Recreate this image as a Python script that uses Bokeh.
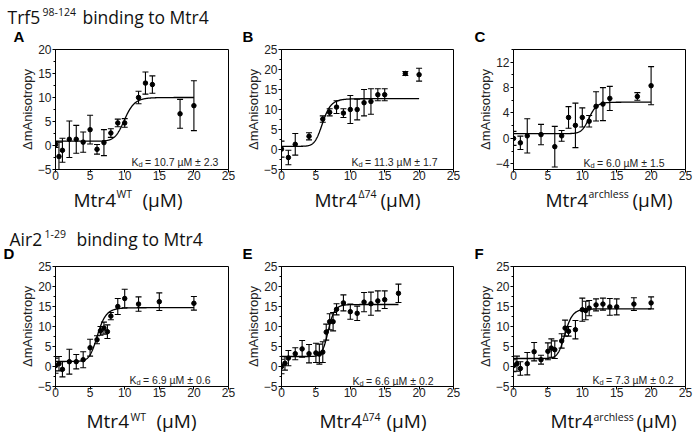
import numpy as np
from bokeh.plotting import figure
from bokeh.models import Label, Range1d, SingleIntervalTicker
from bokeh.layouts import column, row
from bokeh.embed import file_html
from bokeh.resources import INLINE

# ---------------- data ----------------
a_x = [0, 0.5, 1, 2, 3, 4, 5, 6, 7, 8, 9, 10, 12, 13, 14, 18, 20]
a_y = [0.2, -2.3, -1.0, 1.3, 1.3, 0.7, 3.3, -0.8, 0.6, 2.6, 4.7, 4.7, 10.0, 13.0, 12.7, 6.6, 8.3]
a_err = [0.6, 3.0, 2.5, 3.8, 2.9, 2.1, 3.0, 1.0, 2.7, 0.9, 0.8, 0.9, 1.3, 2.3, 1.8, 3.0, 5.2]

b_x = [0, 1, 2, 4, 6, 7, 8, 9, 10, 11, 12, 13, 14, 15, 18, 20]
b_y = [0.1, -2.0, 1.3, 3.3, 7.6, 9.3, 10.6, 9.1, 10.0, 10.0, 11.7, 12.0, 13.7, 13.7, 19.0, 18.7]
b_err = [2.0, 1.8, 2.7, 0.9, 0.8, 0.9, 1.6, 1.1, 3.5, 2.6, 3.3, 3.2, 1.5, 1.5, 0.5, 1.6]

c_x = [0, 1, 2, 4, 6, 7, 8, 9, 10, 11, 12, 13, 14, 18, 20]
c_y = [0.0, -0.7, 0.4, 0.6, -1.3, 0.4, 3.3, 2.05, 3.3, 2.7, 5.05, 5.4, 6.3, 6.6, 8.3]
c_err = [1.1, 1.05, 2.7, 1.6, 3.2, 0.85, 1.7, 3.5, 1.5, 0.9, 2.3, 2.6, 1.9, 0.6, 3.0]

d_x = [0, 0.5, 1, 2, 3, 4, 5, 6, 6.5, 7, 7.5, 8, 9, 10, 12, 15, 20]
d_y = [0.2, 0.7, -0.7, 1.2, 1.2, 1.7, 4.7, 6.7, 8.9, 9.6, 8.7, 12.6, 15.0, 17.0, 15.6, 16.2, 15.8]
d_err = [1.9, 1.8, 1.9, 3.1, 1.8, 2.0, 2.1, 1.0, 1.1, 1.5, 1.7, 0.9, 2.0, 2.3, 1.8, 2.2, 1.7]

e_x = [0, 0.5, 1, 2, 3, 4, 5, 5.5, 6, 6.5, 7, 7.5, 8, 9, 10, 11, 12, 13, 14, 15, 17]
e_y = [0.0, 0.8, 2.1, 3.2, 4.4, 3.2, 3.4, 3.1, 3.6, 8.6, 11.2, 11.2, 14.3, 15.9, 13.7, 13.3, 16.1, 15.7, 16.4, 16.7, 18.3]
e_err = [1.8, 1.7, 1.9, 1.5, 2.1, 2.3, 2.4, 2.5, 2.6, 2.0, 2.0, 2.3, 1.4, 2.0, 1.9, 1.8, 2.4, 2.9, 2.5, 2.2, 2.3]

f_x = [0, 0.5, 1, 2, 3, 4, 5, 5.5, 6, 7, 7.5, 8, 9, 10, 10.5, 11, 12, 13, 14, 15, 17.5, 20]
f_y = [0.2, 0.7, -0.5, 0.7, 3.7, 1.7, 3.8, 4.6, 4.2, 6.4, 9.6, 8.8, 9.2, 14.2, 14.0, 14.6, 15.4, 15.6, 14.9, 14.9, 15.6, 15.9]
f_err = [1.5, 1.9, 1.7, 2.8, 2.3, 1.1, 2.1, 2.3, 2.2, 1.8, 2.0, 1.2, 2.3, 2.9, 2.3, 1.9, 1.5, 1.5, 2.1, 2.0, 1.6, 1.5]

# Hill-fit parameters: baseline, plateau, midpoint, Hill n, last x
fit_base = [0.9, 0.8, 0.75, 1.3, 2.5, 2.0]
fit_top = [10.0, 12.7, 5.7, 14.7, 15.5, 14.4]
fit_mid = [10.0, 6.0, 11.0, 6.1, 6.8, 7.5]
fit_n = [14, 10, 20, 10, 15, 14]
fit_xmax = [20, 20, 20, 20, 17, 20]

kd_text = ["10.7 µM ± 2.3", "11.3 µM ± 1.7", "6.0 µM ± 1.5",
           "6.9 µM ± 0.6", "6.6 µM ± 0.2", "7.3 µM ± 0.2"]
panel_letters = ["A", "B", "C", "D", "E", "F"]
x_sup = ["WT", "Δ74", "archless", "WT", "Δ74", "archless"]
y_ranges = [(-5, 20), (-5, 25), (-4.9, 14), (-5, 25), (-5, 25), (-5, 25)]
y_steps = [5, 5, 4, 5, 5, 5]
headers = [("Trf5", "98-124", "binding to Mtr4"), ("Air2", "1-29", "binding to Mtr4")]

# ---------------- layout (pixels) ----------------
W = 693
col_w = [240, 230, 223]
col_bl = [55, 41, 43]
col_br = [12, 17, 8]
row_top = [44, 261]
row_bt = [5, 5]
row_bb = [15, 15]
frame_h = 120
row_bottom = [row_top[r] + row_bt[r] + frame_h + row_bb[r] for r in range(2)]
strips = [(0, row_top[0]), (row_bottom[0], row_top[1]), (row_bottom[1], 434)]

TICK_FONT = "Liberation Sans"
HEAD_FONT = "Open Sans"


def make_strip(y0, y1):
    s = figure(width=W, height=y1 - y0, x_range=Range1d(0, W), y_range=Range1d(y1, y0),
               x_axis_type=None, y_axis_type=None, output_backend="svg", toolbar_location=None,
               min_border_left=0, min_border_right=0, min_border_top=0, min_border_bottom=0)
    s.outline_line_color = None
    s.grid.visible = False
    s.background_fill_color = "white"
    s.border_fill_color = "white"
    return s


def strip_text(s, txt, x, y, size, font=HEAD_FONT, bold=False, color="#111111"):
    # y is the wanted baseline (page pixels); Bokeh sets the text a little low, so lift it
    s.add_layout(Label(x=x, y=y - 0.28 * size, text=txt, text_font=font, text_font_size=f"{size}px",
                       text_font_style="bold" if bold else "normal", text_color=color,
                       text_baseline="alphabetic", text_align="left"))


strip_figs = [make_strip(a, b) for a, b in strips]

# row headers: (prefix x, sup x, rest x, baseline)
hdr_pos = [(7, 42, 82, 21), (9, 44, 76, 243)]
for k, (main, sup, rest) in enumerate(headers):
    s = strip_figs[k]
    hx, sx_, rx, by = hdr_pos[k]
    strip_text(s, main, hx, by, 17.5)
    strip_text(s, sup, sx_, by - 6.5, 10.5)
    strip_text(s, rest, rx, by, 17.5)

# panel letters
letter_pos = [(13, 40.5), (242, 40.5), (474, 40.5), (3, 257.5), (242, 257.5), (474, 257.5)]
for i, (lx, ly) in enumerate(letter_pos):
    s = strip_figs[0] if i < 3 else strip_figs[1]
    strip_text(s, panel_letters[i], lx, ly, 15, font=TICK_FONT, bold=True, color="black")

# x-axis labels with superscripts: (main baseline, sup baseline) per row
xlab_pos = [(73, 116, 142), (314, 358, 380), (545, 588, 632),
            (86, 130, 156), (319, 362, 386), (550, 593, 636)]
xlab_base = [(204.5, 196.5), (426, 419)]
for i, (mx, sx_, qx) in enumerate(xlab_pos):
    r = i // 3
    s = strip_figs[1] if r == 0 else strip_figs[2]
    by, sy = xlab_base[r]
    strip_text(s, "Mtr4", mx, by, 19)
    strip_text(s, x_sup[i], sx_, sy, 10.5)
    strip_text(s, "(µM)", qx, by, 19)

data = [(a_x, a_y, a_err), (b_x, b_y, b_err), (c_x, c_y, c_err),
        (d_x, d_y, d_err), (e_x, e_y, e_err), (f_x, f_y, f_err)]
kd_off = [76, 70, 70, 74, 71, 79]
kd_lift = [8, 8, 7, 7, 6, 7]

figs = []
for i in range(6):
    r, c = divmod(i, 3)
    px, py, pe = data[i]
    y0, y1 = y_ranges[i]
    p = figure(width=col_w[c], height=row_bt[r] + frame_h + row_bb[r],
               x_range=Range1d(0, 25), y_range=Range1d(y0, y1),
               output_backend="svg", toolbar_location=None,
               min_border_left=col_bl[c], min_border_right=col_br[c],
               min_border_top=row_bt[r], min_border_bottom=row_bb[r])
    p.grid.visible = False
    p.outline_line_color = "black"
    p.outline_line_width = 1
    p.outline_line_alpha = 1
    p.background_fill_color = "white"
    p.border_fill_color = "white"

    p.xaxis.ticker = SingleIntervalTicker(interval=5, num_minor_ticks=0)
    p.yaxis.ticker = SingleIntervalTicker(interval=y_steps[i], num_minor_ticks=2)
    for ax in (p.xaxis[0], p.yaxis[0]):
        ax.axis_line_color = "black"
        ax.major_tick_line_color = "black"
        ax.minor_tick_line_color = "black"
        ax.major_tick_in = 0
        ax.major_tick_out = 3
        ax.minor_tick_in = 0
        ax.minor_tick_out = 2
        ax.major_label_text_font = TICK_FONT
        ax.major_label_text_font_size = "12px"
        ax.major_label_text_color = "#222222"
    p.xaxis.major_label_standoff = -2
    p.yaxis.major_label_standoff = 1
    p.yaxis.axis_label = "ΔmAnisotropy"
    p.yaxis.axis_label_text_font = TICK_FONT
    p.yaxis.axis_label_text_font_size = "13px"
    p.yaxis.axis_label_text_font_style = "normal"
    p.yaxis.axis_label_text_color = "#222222"
    p.yaxis.axis_label_standoff = 0

    # fit curve
    xs = np.linspace(0, fit_xmax[i], 400)
    ys = fit_base[i] + (fit_top[i] - fit_base[i]) * xs ** fit_n[i] / (fit_mid[i] ** fit_n[i] + xs ** fit_n[i])
    p.line(xs, ys, line_color="black", line_width=1.3)

    lo = [a - b for a, b in zip(py, pe)]
    hi = [a + b for a, b in zip(py, pe)]
    p.segment(x0=px, y0=lo, x1=px, y1=hi, line_color="black", line_width=1.1)
    p.scatter(px, lo, marker="dash", size=6, line_color="black", line_width=1.1)
    p.scatter(px, hi, marker="dash", size=6, line_color="black", line_width=1.1)
    p.scatter(px, py, marker="circle", size=4.5, fill_color="black", line_color="black")

    # Kd annotation (inside the frame)
    kx, ky = kd_off[i], kd_lift[i]
    for txt, dx, dy, sz in (("K", 0, 0, 10.5), ("d", 7.0, -2.5, 7.5), ("= " + kd_text[i], 13.5, 0, 10.5)):
        p.add_layout(Label(x=kx + dx, y=ky + dy, x_units="screen", y_units="screen", text=txt,
                           text_font=TICK_FONT, text_font_size=f"{sz}px", text_color="#222222",
                           text_baseline="alphabetic", text_align="left"))
    figs.append(p)

layout = column(strip_figs[0],
                row(figs[0], figs[1], figs[2], spacing=0),
                strip_figs[1],
                row(figs[3], figs[4], figs[5], spacing=0),
                strip_figs[2], spacing=0)

open("out.html", "w").write(file_html(layout, INLINE))
